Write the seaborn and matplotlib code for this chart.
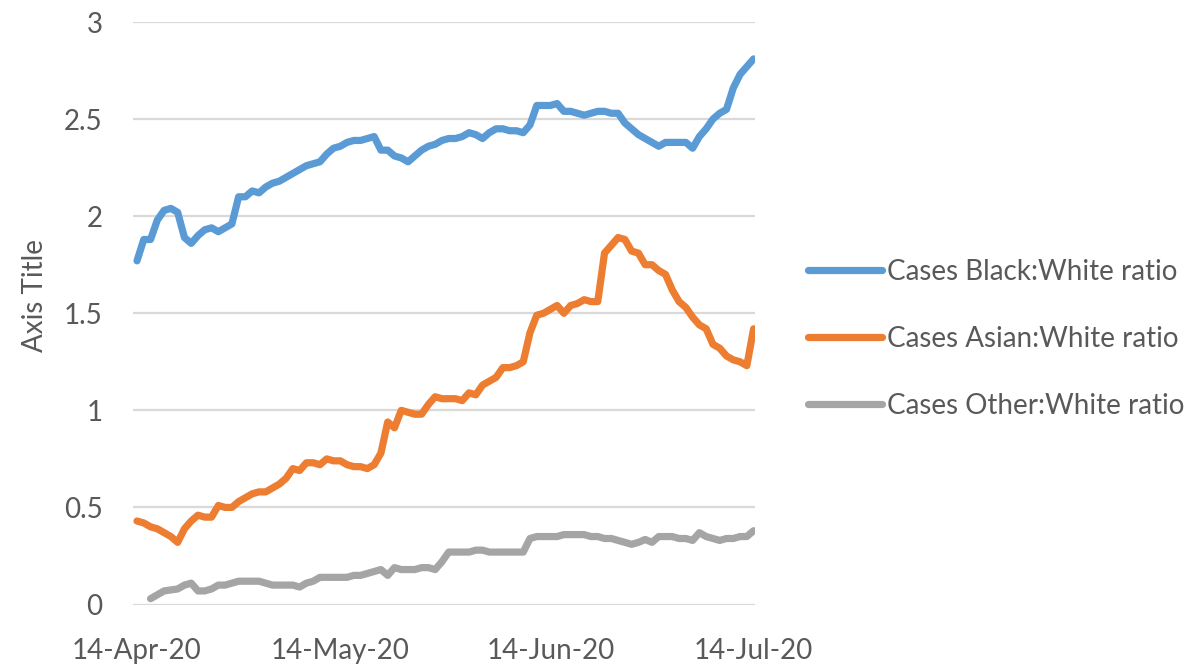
import numpy as np
import pandas as pd
import matplotlib.pyplot as plt
import matplotlib.dates as mdates
import seaborn as sns

# daily values, 14-Apr-20 .. 14-Jul-20
start_date = '2020-04-14'

black_white = [
    1.77, 1.88, 1.88, 1.98, 2.03, 2.04, 2.02, 1.89, 1.86, 1.90,
    1.93, 1.94, 1.92, 1.94, 1.96, 2.10, 2.10, 2.13, 2.12, 2.15,
    2.17, 2.18, 2.20, 2.22, 2.24, 2.26, 2.27, 2.28, 2.32, 2.35,
    2.36, 2.38, 2.39, 2.39, 2.40, 2.41, 2.34, 2.34, 2.31, 2.30,
    2.28, 2.31, 2.34, 2.36, 2.37, 2.39, 2.40, 2.40, 2.41, 2.43,
    2.42, 2.40, 2.43, 2.45, 2.45, 2.44, 2.44, 2.43, 2.47, 2.57,
    2.57, 2.57, 2.58, 2.54, 2.54, 2.53, 2.52, 2.53, 2.54, 2.54,
    2.53, 2.53, 2.48, 2.45, 2.42, 2.40, 2.38, 2.36, 2.38, 2.38,
    2.38, 2.38, 2.35, 2.41, 2.45, 2.50, 2.53, 2.55, 2.66, 2.73,
    2.77, 2.81,
]

asian_white = [
    0.43, 0.42, 0.40, 0.39, 0.37, 0.35, 0.32, 0.39, 0.43, 0.46,
    0.45, 0.45, 0.51, 0.50, 0.50, 0.53, 0.55, 0.57, 0.58, 0.58,
    0.60, 0.62, 0.65, 0.70, 0.69, 0.73, 0.73, 0.72, 0.75, 0.74,
    0.74, 0.72, 0.71, 0.71, 0.70, 0.72, 0.78, 0.94, 0.91, 1.00,
    0.99, 0.98, 0.98, 1.03, 1.07, 1.06, 1.06, 1.06, 1.05, 1.09,
    1.08, 1.13, 1.15, 1.17, 1.22, 1.22, 1.23, 1.25, 1.40, 1.49,
    1.50, 1.52, 1.54, 1.50, 1.54, 1.55, 1.57, 1.56, 1.56, 1.81,
    1.85, 1.89, 1.88, 1.82, 1.81, 1.75, 1.75, 1.72, 1.70, 1.62,
    1.56, 1.53, 1.48, 1.44, 1.42, 1.34, 1.32, 1.28, 1.26, 1.25,
    1.23, 1.42,
]

# first two days have no value
other_white = [
    np.nan, np.nan, 0.03, 0.05, 0.07, 0.075, 0.08, 0.10, 0.11, 0.07,
    0.07, 0.08, 0.10, 0.10, 0.11, 0.12, 0.12, 0.12, 0.12, 0.11,
    0.10, 0.10, 0.10, 0.10, 0.09, 0.11, 0.12, 0.14, 0.14, 0.14,
    0.14, 0.14, 0.15, 0.15, 0.16, 0.17, 0.18, 0.15, 0.19, 0.18,
    0.18, 0.18, 0.19, 0.19, 0.18, 0.22, 0.27, 0.27, 0.27, 0.27,
    0.28, 0.28, 0.27, 0.27, 0.27, 0.27, 0.27, 0.27, 0.34, 0.35,
    0.35, 0.35, 0.35, 0.36, 0.36, 0.36, 0.36, 0.35, 0.35, 0.34,
    0.34, 0.33, 0.32, 0.31, 0.32, 0.335, 0.32, 0.35, 0.35, 0.35,
    0.34, 0.34, 0.33, 0.37, 0.35, 0.34, 0.33, 0.34, 0.34, 0.35,
    0.35, 0.38,
]

series_names = ['Cases Black:White ratio', 'Cases Asian:White ratio', 'Cases Other:White ratio']
colors = ['#5B9BD5', '#ED7D31', '#A5A5A5']
tick_dates = ['2020-04-14', '2020-05-14', '2020-06-14', '2020-07-14']
y_ticks = [0, 0.5, 1, 1.5, 2, 2.5, 3]

dates = pd.date_range(start_date, periods=len(black_white), freq='D')
wide = pd.DataFrame({
    'date': dates,
    series_names[0]: black_white,
    series_names[1]: asian_white,
    series_names[2]: other_white,
})
df = wide.melt(id_vars='date', var_name='series', value_name='ratio').dropna()

sns.set_style('white')
plt.rcParams['font.family'] = ['Lato', 'DejaVu Sans']

fig = plt.figure(figsize=(12.03, 6.69), dpi=100)
ax = fig.add_axes([0.1106, 0.0964, 0.517, 0.8707])

sns.lineplot(data=df, x='date', y='ratio', hue='series', hue_order=series_names,
             palette=colors, linewidth=5.2, ax=ax,
             solid_capstyle='round', solid_joinstyle='round')

# axis ranges and ticks
ax.set_ylim(0, 3)
ax.set_yticks(y_ticks)
ax.set_yticklabels(['0', '0.5', '1', '1.5', '2', '2.5', '3'])
ax.set_xlim(pd.Timestamp(tick_dates[0]) - pd.Timedelta(hours=14),
            pd.Timestamp(tick_dates[-1]) + pd.Timedelta(hours=5))
ax.set_xticks(pd.to_datetime(tick_dates))
ax.xaxis.set_major_formatter(mdates.DateFormatter('%d-%b-%y'))

ax.tick_params(axis='both', length=0, labelsize=20, labelcolor='#595959')
ax.tick_params(axis='x', pad=24)
ax.tick_params(axis='y', pad=22)

# gridlines only, no frame
ax.grid(axis='y', color='#D9D9D9', linewidth=1.6)
ax.set_axisbelow(True)
for s in ax.spines.values():
    s.set_visible(False)

ax.set_xlabel('')
ax.set_ylabel('Axis Title', fontsize=20, color='#595959')
ax.yaxis.label.set_verticalalignment('center')
ax.yaxis.set_label_coords(-0.158, 0.53)

sns.move_legend(ax, 'center left', bbox_to_anchor=(0.6717, 0.4933),
                bbox_transform=fig.transFigure, frameon=False, title=None,
                fontsize=20, labelcolor='#595959', handlelength=2.66,
                handletextpad=0.2, labelspacing=1.47, borderpad=0,
                borderaxespad=0)

fig.savefig('out.png', dpi=100)
